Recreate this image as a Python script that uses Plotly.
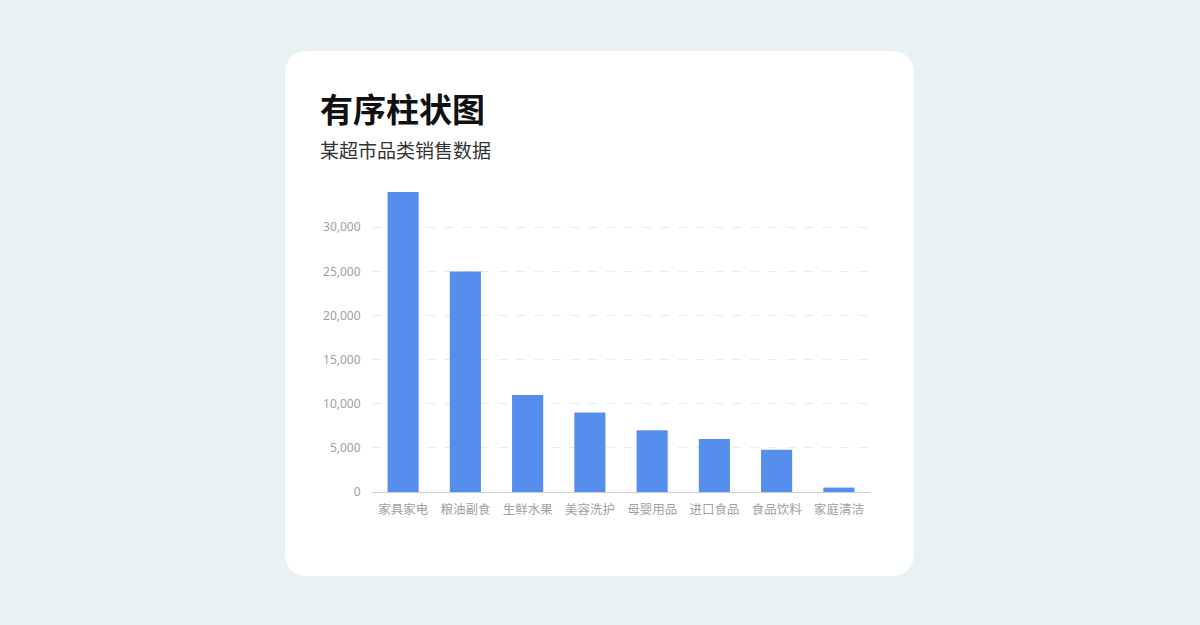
import plotly.graph_objects as go

# data
categories = ['家具家电', '粮油副食', '生鲜水果', '美容洗护', '母婴用品', '进口食品', '食品饮料', '家庭清洁']
sales = [34000, 25000, 11000, 9000, 7000, 6000, 4800, 500]
y_ticks = [0, 5000, 10000, 15000, 20000, 25000, 30000]

W, H = 1200, 625
L, R, T, B = 372, 870, 192, 492  # plot area in px


def px(x, y):
    # pixel -> paper coords
    return (x - L) / (R - L), (B - y) / (B - T)


def rounded_rect(x0, y0, x1, y1, r):
    def p(x, y):
        a, b = px(x, y)
        return f'{a:.5f},{b:.5f}'
    path = f'M {p(x0 + r, y0)} L {p(x1 - r, y0)} Q {p(x1, y0)} {p(x1, y0 + r)} '
    path += f'L {p(x1, y1 - r)} Q {p(x1, y1)} {p(x1 - r, y1)} '
    path += f'L {p(x0 + r, y1)} Q {p(x0, y1)} {p(x0, y1 - r)} '
    path += f'L {p(x0, y0 + r)} Q {p(x0, y0)} {p(x0 + r, y0)} Z'
    return path


fig = go.Figure()
fig.add_trace(go.Bar(x=categories, y=sales, marker_color='#568EEE', marker_line_width=0))

# white card
fig.add_shape(type='path', xref='paper', yref='paper', path=rounded_rect(285, 51, 914, 576, 24),
              fillcolor='white', line_width=0, layer='below')

tx, ty = px(318, 108)
fig.add_annotation(text='<b>有序柱状图</b>', xref='paper', yref='paper', x=tx, y=ty, xanchor='left', yanchor='middle',
                   showarrow=False, font=dict(size=33, color='#111111', family='Noto Sans CJK SC'))
sx, sy = px(318, 149)
fig.add_annotation(text='某超市品类销售数据', xref='paper', yref='paper', x=sx, y=sy, xanchor='left', yanchor='middle',
                   showarrow=False, font=dict(size=19, color='#333333', family='Noto Sans CJK SC'))

fig.update_layout(
    width=W, height=H,
    margin=dict(l=L, r=W - R, t=T, b=H - B, pad=0),
    paper_bgcolor='#E8F1F3', plot_bgcolor='rgba(0,0,0,0)',
    bargap=0.5, showlegend=False,
    font=dict(family='Noto Sans CJK SC, Noto Sans', color='#A6A6A6', size=12),
    xaxis=dict(showgrid=False, showline=True, linecolor='#CCCCCC', linewidth=1,
               ticks='outside', ticklen=6, tickcolor='rgba(0,0,0,0)',
               tickfont=dict(size=12.5, color='#A0A0A0'), fixedrange=True),
    yaxis=dict(range=[0, 34000], tickvals=y_ticks, tickformat=',d', showgrid=True,
               gridcolor='#EBEBEB', griddash='dash', gridwidth=1, zeroline=False, showline=False,
               ticks='outside', ticklen=8, tickcolor='rgba(0,0,0,0)',
               tickfont=dict(size=12, color='#A0A0A0', family='Noto Sans'), fixedrange=True),
)

fig.write_html('out.html', config={'displayModeBar': False},
               post_script="document.body.style.margin='0';")
